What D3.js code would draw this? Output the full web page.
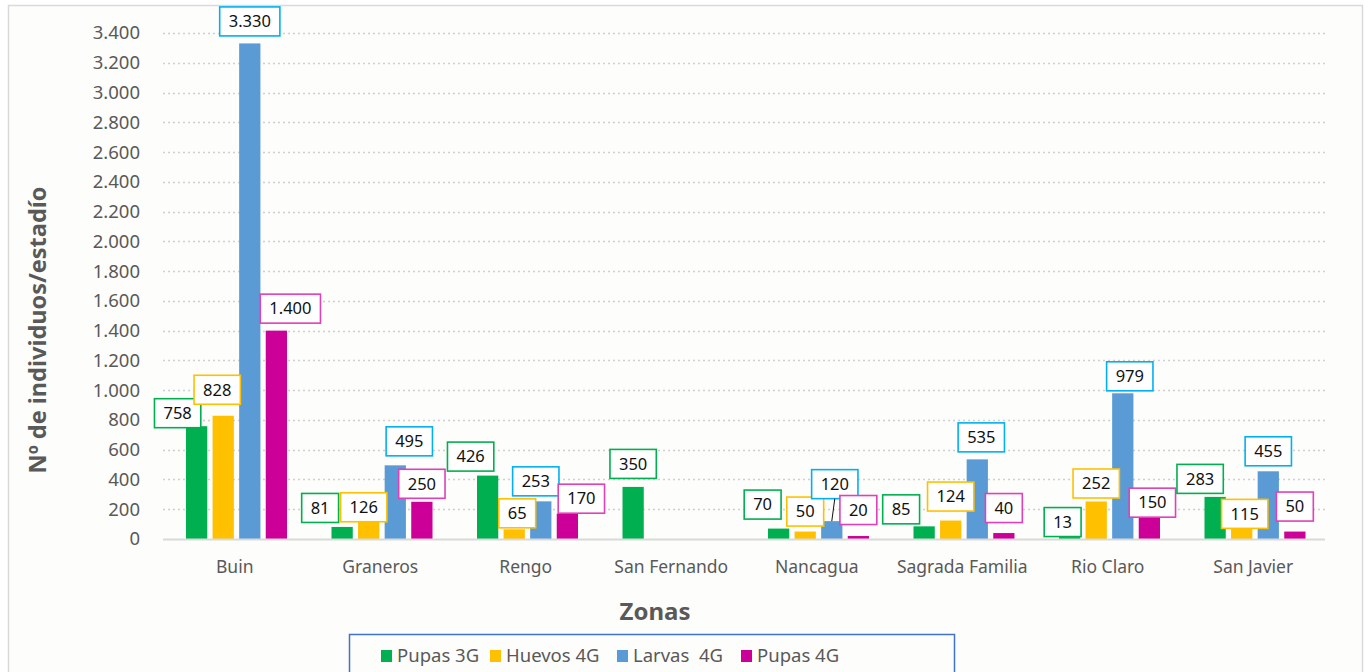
<!DOCTYPE html>
<html>
<head>
<meta charset="utf-8">
<script src="https://cdn.jsdelivr.net/npm/d3@7"></script>
<style>
  body { margin: 0; background: #fff; }
  svg { display: block; font-family: 'Noto Sans', sans-serif; }
</style>
</head>
<body>
<script>
const zonas = ['Buin', 'Graneros', 'Rengo', 'San Fernando', 'Nancagua', 'Sagrada Familia', 'Rio Claro', 'San Javier']
const series = ['Pupas 3G', 'Huevos 4G', 'Larvas  4G', 'Pupas 4G']
const pupas3G = [758, 81, 426, 350, 70, 85, 13, 283]
const huevos4G = [828, 126, 65, null, 50, 124, 252, 115]
const larvas4G = [3330, 495, 253, null, 120, 535, 979, 455]
const pupas4G = [1400, 250, 170, null, 20, 40, 150, 50]
const yTicks = [0, 200, 400, 600, 800, 1000, 1200, 1400, 1600, 1800, 2000, 2200, 2400, 2600, 2800, 3000, 3200, 3400]

// label nudges (dx, dy) per series, moved by hand in the original
const nudge = [
  [[-19, 9], [-22, 3], [-17, 3], [0, -1], [-16, -2], [-23, 5], [-7, 7], [-15, 4]],
  [[-6, -4], [-5, 9], [3, 6], [0, 0], [0, 2], [0, -2], [0, 4], [3, 14]],
  [[0, 0], [14, -2], [-5, 2], [0, 0], [3, -15], [4, 0], [7, 5], [0, 2]],
  [[14, 0], [0, 4], [14, 7], [0, 0], [0, -4], [0, -3], [3, 8], [0, -3]]
]

const colors = ['#00b050', '#ffc000', '#5b9bd5', '#cc0099']
const boxColors = ['#00b050', '#ffc000', '#00b0f0', '#e040b8']
const values = [pupas3G, huevos4G, larvas4G, pupas4G]

const W = 1369, H = 672
const svg = d3.select('body').append('svg').attr('width', W).attr('height', H)

// frame
svg.append('rect').attr('x', 8.5).attr('y', 5.5).attr('width', 1354).attr('height', 700)
  .attr('fill', '#fdfdfb').attr('stroke', '#d9d9d9').attr('stroke-width', 1.5)

const y = d3.scaleLinear().domain([0, 3400]).range([539, 33])
const x0 = d3.scaleBand().domain(zonas).range([162, 1326])
const x1 = d3.scaleBand().domain(d3.range(4)).range([24, 125]).paddingInner(0.2)

// grid
svg.append('g').selectAll('line').data(yTicks.filter(d => d > 0)).join('line')
  .attr('x1', 163).attr('x2', 1325)
  .attr('y1', d => Math.round(y(d)) + 0.5).attr('y2', d => Math.round(y(d)) + 0.5)
  .attr('stroke', '#d0d0d0').attr('stroke-width', 1.3).attr('stroke-dasharray', '2,3')

// y labels
svg.append('g').selectAll('text').data(yTicks).join('text')
  .attr('x', 140).attr('y', d => y(d)).attr('dy', '0.35em')
  .attr('text-anchor', 'end').attr('font-size', 18.5).attr('fill', '#595959')
  .text(d => d3.format(',')(d).replace(/,/g, '.'))

// bars
const groups = svg.append('g').selectAll('g').data(zonas).join('g')
  .attr('transform', d => `translate(${x0(d)},0)`)

groups.each(function (z, zi) {
  const g = d3.select(this)
  values.forEach((vals, si) => {
    const v = vals[zi]
    if (v == null) return
    g.append('rect')
      .attr('x', x1(si)).attr('width', x1.bandwidth())
      .attr('y', y(v)).attr('height', y(0) - y(v))
      .attr('fill', colors[si])
  })
})

// baseline
svg.append('line').attr('x1', 163).attr('x2', 1325).attr('y1', 539.5).attr('y2', 539.5)
  .attr('stroke', '#d9d9d9').attr('stroke-width', 2)

// data labels
const labels = svg.append('g')
zonas.forEach((z, zi) => {
  values.forEach((vals, si) => {
    const v = vals[zi]
    if (v == null) return
    const bx = x0(z) + x1(si) + x1.bandwidth() / 2
    const top = y(v)
    const cx = bx + nudge[si][zi][0]
    const cy = top - 22 + nudge[si][zi][1]
    const g = labels.append('g')
    const t = g.append('text').attr('x', cx).attr('y', cy).attr('dy', '0.35em')
      .attr('text-anchor', 'middle').attr('font-size', 16.5).attr('fill', '#111')
      .text(d3.format(',')(v).replace(/,/g, '.'))
    const tw = t.node().getComputedTextLength()
    const bw = tw + 18, bh = 29
    g.insert('rect', 'text').attr('x', cx - bw / 2).attr('y', cy - bh / 2)
      .attr('width', bw).attr('height', bh)
      .attr('fill', '#fff').attr('stroke', boxColors[si]).attr('stroke-width', 1.6)
    // leader line only when the label was pulled well away from its bar
    if (top - (cy + bh / 2) > 16) {
      labels.append('line').attr('x1', cx).attr('y1', cy + bh / 2)
        .attr('x2', bx).attr('y2', top).attr('stroke', '#111').attr('stroke-width', 1)
    }
  })
})

// category labels
svg.append('g').selectAll('text').data(zonas).join('text')
  .attr('x', d => x0(d) + x0.bandwidth() / 2).attr('y', 567).attr('dy', '0.35em')
  .attr('text-anchor', 'middle').attr('font-size', 17.5).attr('fill', '#595959')
  .text(d => d)

// axis titles
svg.append('text').attr('transform', 'translate(38,330) rotate(-90)')
  .attr('text-anchor', 'middle').attr('dy', '0.35em')
  .attr('font-size', 23.5).attr('font-weight', 'bold').attr('fill', '#595959')
  .text('Nº de individuos/estadío')

svg.append('text').attr('x', 655).attr('y', 612).attr('dy', '0.35em')
  .attr('text-anchor', 'middle').attr('font-size', 24).attr('font-weight', 'bold').attr('fill', '#595959')
  .text('Zonas')

// legend
svg.append('rect').attr('x', 349.5).attr('y', 634.5).attr('width', 605).attr('height', 60)
  .attr('fill', '#fdfdfb').attr('stroke', '#4472c4').attr('stroke-width', 1.5)
const legX = [381, 490, 617, 741]
const leg = svg.append('g').selectAll('g').data(series).join('g')
  .attr('transform', (d, i) => `translate(${legX[i]},656)`)
leg.append('rect').attr('x', 0).attr('y', -6).attr('width', 11).attr('height', 12)
  .attr('fill', (d, i) => colors[i])
leg.append('text').attr('x', 16).attr('dy', '0.35em')
  .attr('font-size', 18.5).attr('fill', '#595959')
  .style('white-space', 'pre').text(d => d)
</script>
</body>
</html>
